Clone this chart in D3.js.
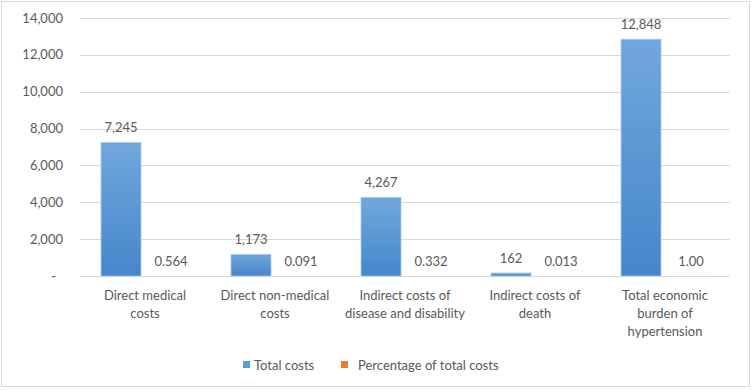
<!DOCTYPE html>
<html>
<head>
<meta charset="utf-8">
<script src="https://cdn.jsdelivr.net/npm/d3@7"></script>
<style>
  body { margin: 0; background: #fff; }
  text { font-family: Lato, "Open Sans", sans-serif; fill: #595959; }
</style>
</head>
<body>
<div id="chart"></div>
<script>
// data
const categories = [
  ["Direct medical", "costs"],
  ["Direct non-medical", "costs"],
  ["Indirect costs of", "disease and disability"],
  ["Indirect costs of", "death"],
  ["Total economic", "burden of", "hypertension"]
];
const totalCosts = [7245, 1173, 4267, 162, 12848];
const percentCosts = [0.564, 0.091, 0.332, 0.013, 1.00];
const percentLabels = ["0.564", "0.091", "0.332", "0.013", "1.00"];
const yTicks = [0, 2000, 4000, 6000, 8000, 10000, 12000, 14000];
const seriesNames = ["Total costs", "Percentage of total costs"];

const width = 755, height = 390;
const plot = { left: 80, right: 730, top: 18, bottom: 276 };

const svg = d3.select("#chart").append("svg")
  .attr("width", width)
  .attr("height", height);

// outer border
svg.append("rect")
  .attr("x", 1.5).attr("y", 1.5)
  .attr("width", 748).attr("height", 385)
  .attr("fill", "#fff")
  .attr("stroke", "#d9d9d9");

// gradient for bars
const grad = svg.append("defs").append("linearGradient")
  .attr("id", "barGrad")
  .attr("x1", 0).attr("y1", 0).attr("x2", 0).attr("y2", 1);
grad.append("stop").attr("offset", "0%").attr("stop-color", "#71a7dd");
grad.append("stop").attr("offset", "100%").attr("stop-color", "#4686cb");

// scales
const x0 = d3.scaleBand()
  .domain(d3.range(categories.length))
  .range([plot.left, plot.right])
  .paddingInner(0)
  .paddingOuter(0);

const x1 = d3.scaleBand()
  .domain([0, 1])
  .range([21, x0.bandwidth() - 19])
  .paddingInner(0.2);

const y = d3.scaleLinear()
  .domain([0, 14000])
  .range([plot.bottom, plot.top]);

// gridlines
svg.append("g")
  .selectAll("line")
  .data(yTicks)
  .join("line")
  .attr("x1", plot.left).attr("x2", plot.right)
  .attr("y1", d => Math.round(y(d)) + 0.5)
  .attr("y2", d => Math.round(y(d)) + 0.5)
  .attr("stroke", "#d9d9d9")
  .attr("stroke-width", 1);

// y axis labels (accounting style: zero shown as a dash)
const fmt = d3.format(",");
svg.append("g")
  .selectAll("text")
  .data(yTicks)
  .join("text")
  .attr("x", d => d === 0 ? 56 : 63)
  .attr("y", d => y(d))
  .attr("dy", "0.35em")
  .attr("text-anchor", "end")
  .style("font-size", "13px")
  .text(d => d === 0 ? "-" : fmt(d));

// bars
const groups = svg.append("g")
  .selectAll("g")
  .data(categories.map((c, i) => i))
  .join("g")
  .attr("transform", i => `translate(${x0(i)},0)`);

groups.append("rect")
  .attr("x", x1(0))
  .attr("width", x1.bandwidth())
  .attr("y", i => y(totalCosts[i]))
  .attr("height", i => y(0) - y(totalCosts[i]))
  .attr("fill", "url(#barGrad)")
  .attr("stroke", "#a9c8ea")
  .attr("stroke-width", 0.8);

groups.append("rect")
  .attr("x", x1(1))
  .attr("width", x1.bandwidth())
  .attr("y", i => y(percentCosts[i]))
  .attr("height", i => y(0) - y(percentCosts[i]))
  .attr("fill", "#ed7d31");

// value labels
groups.append("text")
  .attr("x", x1(0) + x1.bandwidth() / 2)
  .attr("y", i => y(totalCosts[i]) - 10)
  .attr("text-anchor", "middle")
  .style("font-size", "13px")
  .text(i => fmt(totalCosts[i]));

groups.append("text")
  .attr("x", x1(1) + x1.bandwidth() / 2)
  .attr("y", i => y(percentCosts[i]) - 10)
  .attr("text-anchor", "middle")
  .style("font-size", "13px")
  .text(i => percentLabels[i]);

// category labels
groups.append("text")
  .attr("x", x0.bandwidth() / 2)
  .attr("y", 300)
  .attr("text-anchor", "middle")
  .style("font-size", "13px")
  .selectAll("tspan")
  .data(i => categories[i])
  .join("tspan")
  .attr("x", x0.bandwidth() / 2)
  .attr("dy", (d, j) => j === 0 ? 0 : 18)
  .text(d => d);

// legend
const legendColors = ["#5b9bd5", "#ed7d31"];
const legendX = [243, 341];
const legend = svg.append("g")
  .selectAll("g")
  .data(seriesNames)
  .join("g")
  .attr("transform", (d, i) => `translate(${legendX[i]},361)`);

legend.append("rect")
  .attr("width", 7).attr("height", 7)
  .attr("fill", (d, i) => legendColors[i]);

legend.append("text")
  .attr("x", (d, i) => i === 0 ? 11 : 17)
  .attr("y", 4)
  .attr("dy", "0.35em")
  .style("font-size", "13px")
  .text(d => d);
</script>
</body>
</html>
